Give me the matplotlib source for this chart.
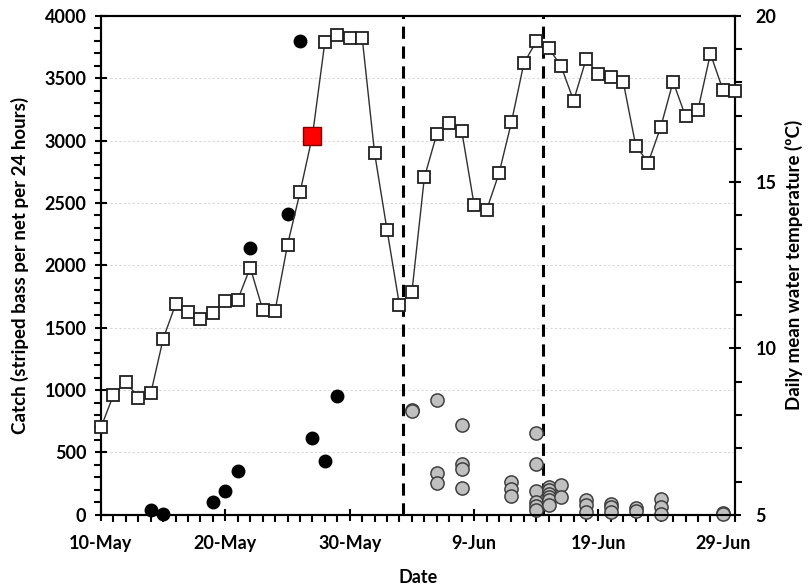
import matplotlib.pyplot as plt
from matplotlib.ticker import MultipleLocator
import numpy as np

plt.rcParams['font.family'] = ['Lato', 'DejaVu Sans']

# days since 10-May
temp_days = list(range(52))
temp = [7.63, 8.60, 9.00, 8.52, 8.65, 10.29, 11.33, 11.10, 10.89, 11.07,
        11.42, 11.47, 12.43, 11.17, 11.14, 13.12, 14.69, 16.39, 19.21, 19.43,
        19.33, 19.34, 15.87, 13.56, 11.30, 11.70, 15.14, 16.45, 16.77, 16.55,
        14.32, 14.16, 15.26, 16.80, 18.57, 19.23, 19.03, 18.48, 17.45, 18.69,
        18.25, 18.15, 18.00, 16.09, 15.59, 16.65, 18.02, 16.98, 17.17, 18.86,
        17.78, 17.73]
red_day = 17

# early catches (black)
black_days = [4, 5, 9, 10, 11, 12, 15, 16, 17, 18, 19]
black_catch = [35, 10, 105, 193, 350, 2142, 2415, 3800, 615, 430, 950]

# later catches (grey)
grey_days = [25, 25, 27, 27, 27, 29, 29, 29, 29, 33, 33, 33,
             35, 35, 35, 35, 35, 35, 36, 36, 36, 36, 36, 36, 37, 37,
             39, 39, 39, 41, 41, 41, 43, 43, 45, 45, 45, 50, 50]
grey_catch = [843, 835, 918, 335, 254, 723, 405, 365, 214, 262, 210, 153,
              656, 405, 190, 105, 72, 40, 225, 195, 170, 145, 115, 80, 238, 145,
              115, 75, 22, 88, 62, 22, 54, 30, 126, 60, 10, 14, 5]

dashed_days = [24.25, 35.5]
tick_days = [0, 10, 20, 30, 40, 50]
tick_labels = ['10-May', '20-May', '30-May', '9-Jun', '19-Jun', '29-Jun']

fig = plt.figure(figsize=(8.08, 5.85), dpi=100)
ax = fig.add_axes([0.125, 0.12, 0.785, 0.853])
ax2 = ax.twinx()

ax.set_xlim(0, 51)
ax.set_ylim(0, 4000)
ax2.set_ylim(5, 20)

for y in range(500, 4000, 500):
    ax.axhline(y, color='#d8d8d8', lw=0.8, ls=(0, (2, 2)), zorder=0)

for d in dashed_days:
    ax.axvline(d, color='black', lw=2.2, ls=(0, (4, 2.5)), zorder=2)

ax.plot(black_days, black_catch, 'o', color='black', ms=9, zorder=3,
        clip_on=False)
ax.plot(grey_days, grey_catch, 'o', mfc='#c0c0c0', mec='#404040', mew=1.1,
        ms=9.5, zorder=3, clip_on=False)

ax2.plot(temp_days, temp, '-', color='#303030', lw=1.0, zorder=3)
ax2.plot(temp_days, temp, 's', mfc='white', mec='#202020', mew=1.3, ms=9,
         zorder=4, clip_on=False)
ax2.plot([temp_days[red_day]], [temp[red_day]], 's', mfc='#ff0000',
         mec='#800000', mew=1.0, ms=13.5, zorder=5)

ax.set_xticks(tick_days)
ax.set_xticklabels(tick_labels)
ax.xaxis.set_minor_locator(MultipleLocator(1))
ax.yaxis.set_major_locator(MultipleLocator(500))
ax.yaxis.set_minor_locator(MultipleLocator(100))
ax2.yaxis.set_major_locator(MultipleLocator(5))
ax2.yaxis.set_minor_locator(MultipleLocator(1))

ax.tick_params(axis='x', which='major', direction='inout', length=9,
               width=1.5, labelsize=13, pad=10)
ax.tick_params(axis='y', which='major', direction='inout', length=9,
               width=1.5, labelsize=13, pad=6)
ax.tick_params(axis='both', which='minor', direction='out', length=5,
               width=1.5)
ax2.tick_params(axis='y', which='major', direction='inout', length=9,
                width=1.5, labelsize=13, pad=10)
ax2.tick_params(axis='y', which='minor', direction='out', length=5, width=1.5)
for lab in ax.get_xticklabels() + ax.get_yticklabels() + ax2.get_yticklabels():
    lab.set_fontweight('bold')

for a in (ax, ax2):
    for s in a.spines.values():
        s.set_linewidth(1.5)

ax.set_xlabel('Date', fontsize=13, fontweight='bold', labelpad=12)
ax.set_ylabel('Catch (striped bass per net per 24 hours)', fontsize=13.5,
              fontweight='bold', labelpad=11)
ax2.set_ylabel('Daily mean water temperature (ºC)', fontsize=13.5,
               fontweight='bold', labelpad=6)

fig.savefig('out.png', dpi=100)
